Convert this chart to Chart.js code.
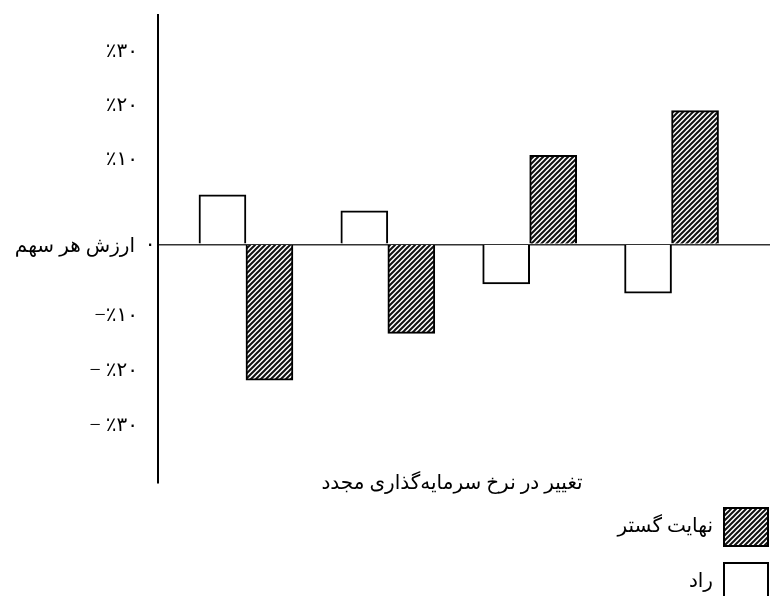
<!DOCTYPE html>
<html>
<head>
<meta charset="utf-8">
<script src="https://cdn.jsdelivr.net/npm/chart.js@4.4.1/dist/chart.umd.min.js"></script>
<style>
  html, body { margin: 0; padding: 0; background: #fff; }
  #wrap { width: 770px; height: 596px; }
</style>
</head>
<body>
<div id="wrap"><canvas id="valueChart"></canvas></div>
<script>
// four unlabelled steps along the reinvestment-rate axis
const groups = [1, 2, 3, 4];
const radValues = [9.0, 6.1, -7.2, -8.9];
const nahayatValues = [-24.7, -16.2, 16.2, 24.3];
const seriesNames = ["راد", "نهایت گستر"];

// the printed tick labels sit at these positions on the value axis
const tickValues = [-33, -23, -13, 0, 15.3, 25.2, 35];
const tickLabels = ["− ٪۳۰", "− ٪۲۰", "−٪۱۰", "", "٪۱۰", "٪۲۰", "٪۳۰"];
const zeroLabel = "۰";
const yTitle = "ارزش هر سهم";
const xTitle = "تغییر در نرخ سرمایه‌گذاری مجدد";

const FONT = "'Liberation Serif', 'DejaVu Sans', serif";

const canvas = document.getElementById("valueChart");
const ctx = canvas.getContext("2d");

function hatchPattern() {
  const c = document.createElement("canvas");
  c.width = 5;
  c.height = 5;
  const g = c.getContext("2d");
  g.fillStyle = "#fff";
  g.fillRect(0, 0, 5, 5);
  g.strokeStyle = "#111";
  g.lineWidth = 2;
  g.beginPath();
  g.moveTo(-1, 6); g.lineTo(6, -1);
  g.moveTo(-1, 1); g.lineTo(1, -1);
  g.moveTo(4, 6); g.lineTo(6, 4);
  g.stroke();
  return ctx.createPattern(c, "repeat");
}
const hatch = hatchPattern();

// texts and legend placed like the original figure
const extras = {
  id: "extras",
  afterDraw(chart) {
    const c = chart.ctx;
    const y = chart.scales.y;
    const area = chart.chartArea;
    const y0 = y.getPixelForValue(0);
    c.save();
    c.fillStyle = "#000";
    c.font = "20px " + FONT;
    c.textBaseline = "middle";
    c.textAlign = "center";
    c.fillText(zeroLabel, area.left - 8, y0);
    c.textAlign = "right";
    c.fillText(yTitle, area.left - 23, y0 + 2);
    c.textAlign = "center";
    c.fillText(xTitle, 452, area.bottom + 1);

    // legend, hatched series first
    const order = [1, 0];
    order.forEach((di, row) => {
      const ds = chart.data.datasets[di];
      const bx = 723, by = 507 + row * 55, bw = 46, bh = 40;
      c.fillStyle = ds.backgroundColor;
      c.fillRect(bx, by, bw, bh);
      c.strokeStyle = "#000";
      c.lineWidth = 2;
      c.strokeRect(bx + 1, by + 1, bw - 2, bh - 2);
      c.fillStyle = "#000";
      c.textAlign = "right";
      c.fillText(ds.label, bx - 10, by + bh / 2);
    });
    c.restore();
  }
};

const valueChart = new Chart(canvas, {
  type: "bar",
  data: {
    datasets: [
      {
        label: seriesNames[0],
        data: groups.map((g, i) => ({ x: g, y: radValues[i] })),
        backgroundColor: "#fff",
        borderColor: "#000",
        borderWidth: 2,
        barThickness: 47,
      },
      {
        label: seriesNames[1],
        data: groups.map((g, i) => ({ x: g, y: nahayatValues[i] })),
        backgroundColor: hatch,
        borderColor: "#000",
        borderWidth: 2,
        barThickness: 47,
      },
    ],
  },
  options: {
    responsive: true,
    maintainAspectRatio: false,
    animation: false,
    layout: { padding: { top: 15, bottom: 113, left: 0, right: 0 } },
    plugins: { legend: { display: false }, tooltip: { enabled: false } },
    scales: {
      x: { type: "linear", min: 0.38, max: 4.694, offset: false, display: false },
      y: {
        min: -43.4,
        max: 41.7,
        afterBuildTicks: (s) => { s.ticks = tickValues.map((v) => ({ value: v })); },
        afterFit: (s) => {
          s.width = 158;
          s.paddingTop = 0;
          s.paddingBottom = 0;
        },
        ticks: {
          autoSkip: false,
          padding: 20,
          color: "#000",
          font: { family: FONT, size: 20 },
          callback: (v, i) => tickLabels[i],
        },
        grid: {
          drawTicks: false,
          lineWidth: 1.5,
          color: (c) => (c.tick && c.tick.value === 0 ? "#333" : "rgba(0,0,0,0)"),
        },
        border: { color: "#000", width: 2 },
      },
    },
  },
  plugins: [extras],
});
</script>
</body>
</html>
